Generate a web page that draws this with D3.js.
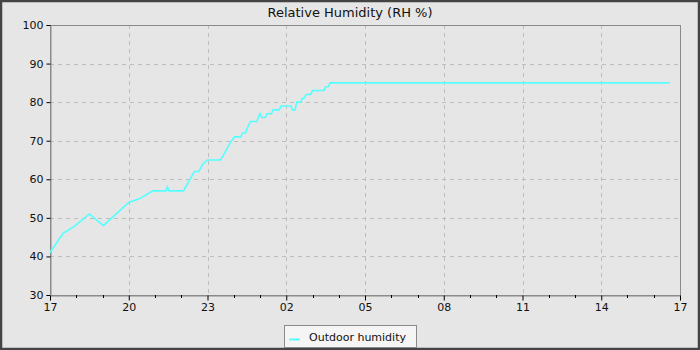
<!DOCTYPE html>
<meta charset="utf-8">
<head>
<script src="https://d3js.org/d3.v7.min.js"></script>
<style>
  body { margin: 0; background: #e6e6e6; }
  svg { display: block; font-family: "DejaVu Sans", sans-serif; }
</style>
</head>
<body>
<svg id="chart" width="700" height="350"></svg>
<script>

// readings, times from 17:00 to 17:00 the next day
var times = ["17:00","17:30","17:57","18:30","19:02","20:00","20:25","20:40","20:55",
  "21:25","21:28","21:32","22:05","22:10","22:15","22:20","22:25","22:30","22:40",
  "22:45","22:50","23:00","23:30","23:35","23:40","23:45","23:50","23:55","00:02",
  "00:16","00:20","00:27","00:30","00:34","00:38","00:53","00:56","01:00","01:04",
  "01:12","01:16","01:26","01:30","01:44","01:48","02:11","02:14","02:20","02:24",
  "02:33","02:37","02:41","02:45","02:56","03:00","03:26","03:30","03:36","03:40","16:37"];
var humidity = [41,46,47.9,51,48,54,55,56,57,
  57,58,57,57,58,59,60,61,62,62,
  63,64,65,65,66,67,68,69,70,71,
  71,72,72,73,74,75,75,76,77,76,
  76,77,77,78,78,79,79,78,78,80,
  80,81,81,82,82,83,83,84,84,85,85];
var yTicks = [30,40,50,60,70,80,90,100];
var seriesName = "Outdoor humidity";
var title = "Relative Humidity (RH %)";

var svg = d3.select("#chart");
var W = 700, H = 350;
var mLeft = 50, mRight = 680, mTop = 25, mBottom = 295;

// turn "HH:MM" into a date, hours before 17 belong to the next day
function toDate(s) {
  var p = s.split(":");
  var h = +p[0], m = +p[1];
  return new Date(2024, 0, h < 17 ? 2 : 1, h, m);
}
var data = times.map(function(t, i) { return { t: toDate(t), v: humidity[i] }; });

var x = d3.scaleTime()
  .domain([new Date(2024, 0, 1, 17), new Date(2024, 0, 2, 17)])
  .range([mLeft, mRight]);
var y = d3.scaleLinear().domain([30, 100]).range([mBottom, mTop]);

var hours = x.ticks(d3.timeHour.every(1));
var majorX = hours.filter(function(d, i) { return i % 3 == 0; });
var minorX = hours.filter(function(d, i) { return i % 3 != 0; });

// background + outer frame
svg.append("rect").attr("x", 0).attr("y", 0).attr("width", W).attr("height", H)
  .attr("fill", "#e6e6e6");
svg.append("rect").attr("x", 1).attr("y", 1).attr("width", W - 2).attr("height", H - 2)
  .attr("fill", "none").attr("stroke", "#444").attr("stroke-width", 2.5);

// title
svg.append("text").attr("x", 350).attr("y", 17).attr("text-anchor", "middle")
  .attr("font-size", 13).attr("fill", "#111").text(title);

// grid
svg.append("g").selectAll("line").data(majorX.slice(1, -1)).enter().append("line")
  .attr("x1", function(d) { return Math.round(x(d)) + 0.5; })
  .attr("x2", function(d) { return Math.round(x(d)) + 0.5; })
  .attr("y1", mTop).attr("y2", mBottom)
  .attr("stroke", "#bdbdbd").attr("stroke-dasharray", "4,4");
svg.append("g").selectAll("line").data(yTicks.slice(1, -1)).enter().append("line")
  .attr("x1", mLeft).attr("x2", mRight)
  .attr("y1", function(d) { return Math.round(y(d)) + 0.5; })
  .attr("y2", function(d) { return Math.round(y(d)) + 0.5; })
  .attr("stroke", "#bdbdbd").attr("stroke-dasharray", "4,4");

// plot frame
svg.append("rect").attr("x", mLeft + 0.5).attr("y", mTop + 0.5)
  .attr("width", mRight - mLeft).attr("height", mBottom - mTop)
  .attr("fill", "none").attr("stroke", "#8a8a8a");

// axes
var xAxis = d3.axisBottom(x).tickValues(majorX)
  .tickFormat(d3.timeFormat("%H")).tickSize(5).tickPadding(3);
var gx = svg.append("g").attr("transform", "translate(0," + (mBottom + 0.5) + ")").call(xAxis);
gx.select(".domain").attr("stroke", "#8a8a8a");
gx.selectAll(".tick line").attr("stroke", "#000");
gx.selectAll("text").attr("font-size", 11).attr("fill", "#111")
  .attr("font-family", "DejaVu Sans, sans-serif");

svg.append("g").selectAll("line").data(minorX).enter().append("line")
  .attr("x1", function(d) { return Math.round(x(d)) + 0.5; })
  .attr("x2", function(d) { return Math.round(x(d)) + 0.5; })
  .attr("y1", mBottom).attr("y2", mBottom + 3)
  .attr("stroke", "#000");

var yAxis = d3.axisLeft(y).tickValues(yTicks).tickSize(4).tickPadding(3);
var gy = svg.append("g").attr("transform", "translate(" + (mLeft + 0.5) + ",0)").call(yAxis);
gy.select(".domain").attr("stroke", "#8a8a8a");
gy.selectAll(".tick line").attr("stroke", "#000");
gy.selectAll("text").attr("font-size", 11).attr("fill", "#111")
  .attr("font-family", "DejaVu Sans, sans-serif");

// the series
var line = d3.line().x(function(d) { return x(d.t); }).y(function(d) { return y(d.v); });
svg.append("path").datum(data).attr("d", line)
  .attr("fill", "none").attr("stroke", "#55ffff").attr("stroke-width", 1.6);

// legend
var lg = svg.append("g");
lg.append("rect").attr("x", 284.5).attr("y", 325.5).attr("width", 132).attr("height", 22)
  .attr("fill", "#f5f5f5").attr("stroke", "#8a8a8a");
lg.append("line").attr("x1", 289).attr("x2", 300).attr("y1", 339.5).attr("y2", 339.5)
  .attr("stroke", "#55ffff").attr("stroke-width", 2);
lg.append("text").attr("x", 309).attr("y", 341).attr("font-size", 11).attr("fill", "#111")
  .text(seriesName);

</script>
</body>
